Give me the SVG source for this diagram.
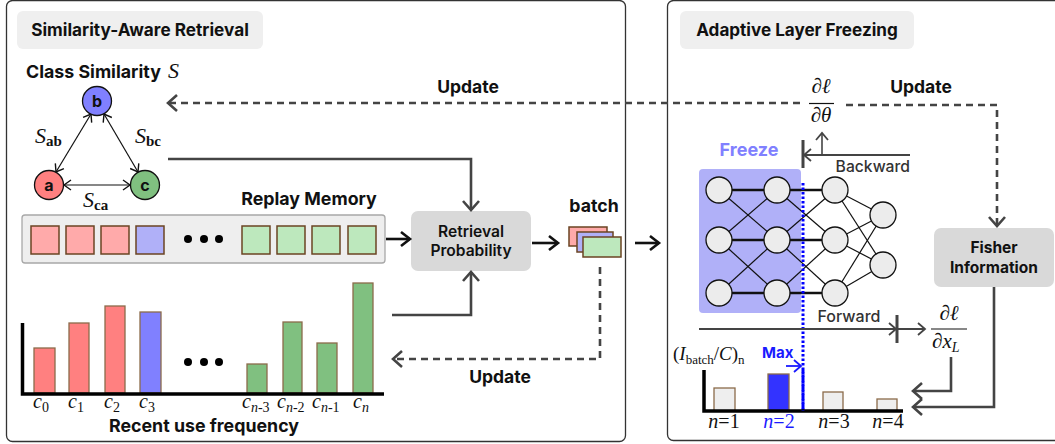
<svg xmlns="http://www.w3.org/2000/svg" width="1055" height="444" viewBox="0 0 1055 444">
<style>
.panel{fill:#fff;stroke:#333;stroke-width:1.3}
.tag{fill:#efefef}
.h{font-family:Inter,Roboto,"Liberation Sans",sans-serif;font-weight:700;fill:#111}
.m{font-family:Inter,Roboto,"Liberation Sans",sans-serif;font-weight:500;fill:#333}
.box{fill:#d9d9d9}
.math{font-family:"Liberation Serif","DejaVu Serif",serif;fill:#111}
.it{font-style:italic}
.sq{stroke:#6b4423;stroke-width:1.5}
.bar{stroke:#8b6b4a;stroke-width:1.3}
.node{fill:#ececec;stroke:#111;stroke-width:1.3}
.thin{stroke:#111;stroke-width:1.2;fill:none}
.thick{stroke:#111;stroke-width:2.6;fill:none}
.dash{stroke:#444;stroke-width:2.6;fill:none;stroke-dasharray:7 5}
.gl{stroke:#444;stroke-width:2.6;fill:none}
.bl{stroke:#111;stroke-width:2.6;fill:none}
</style>
<defs>
<marker id="ab" markerUnits="userSpaceOnUse" markerWidth="14" markerHeight="18" refX="11" refY="9" orient="auto"><path d="M2,2 L11,9 L2,16" fill="none" stroke="#111" stroke-width="2.6"/></marker>
<marker id="ag" markerUnits="userSpaceOnUse" markerWidth="14" markerHeight="20" refX="11" refY="10" orient="auto"><path d="M2,2 L11,10 L2,18" fill="none" stroke="#444" stroke-width="2.6"/></marker>
<marker id="at" markerUnits="userSpaceOnUse" markerWidth="10" markerHeight="12" refX="8" refY="6" orient="auto-start-reverse"><path d="M1,1 L8,6 L1,11" fill="none" stroke="#111" stroke-width="1.4"/></marker>
<marker id="atg" markerUnits="userSpaceOnUse" markerWidth="10" markerHeight="14" refX="8" refY="7" orient="auto"><path d="M1,1 L8,7 L1,13" fill="none" stroke="#444" stroke-width="1.8"/></marker>
<marker id="abl" markerUnits="userSpaceOnUse" markerWidth="10" markerHeight="14" refX="8" refY="7" orient="auto"><path d="M1,1 L8,7 L1,13" fill="none" stroke="#1a1aff" stroke-width="1.8"/></marker>
</defs>

<!-- panels -->
<rect class="panel" x="6.5" y="0.5" width="619" height="441" rx="6"/>
<rect class="panel" x="667.5" y="0.5" width="400" height="440" rx="6"/>

<g id="title-left"><rect class="tag" x="17" y="11" width="246" height="38" rx="6"/><text class="h" x="140" y="36" font-size="17.2" text-anchor="middle">Similarity-Aware Retrieval</text></g>
<g id="title-right"><rect class="tag" x="680" y="11" width="234" height="38" rx="6"/><text class="h" x="797" y="36" font-size="17.1" text-anchor="middle">Adaptive Layer Freezing</text></g>

<!-- class similarity -->
<g id="class-similarity">
<text class="h" x="26" y="78" font-size="17.8">Class Similarity</text>
<text class="math it" x="168" y="78" font-size="22">S</text>
</g>
<g id="sim-edges">
<line class="thin" x1="91" y1="114" x2="56" y2="172" marker-start="url(#at)" marker-end="url(#at)"/>
<line class="thin" x1="104" y1="114" x2="138" y2="172" marker-start="url(#at)" marker-end="url(#at)"/>
<line class="thin" x1="64" y1="185" x2="130" y2="185" marker-start="url(#at)" marker-end="url(#at)"/>
<text class="math" x="35" y="143"><tspan class="it" font-size="22">S</tspan><tspan font-size="15" font-weight="700" dy="3">ab</tspan></text>
<text class="math" x="135" y="143"><tspan class="it" font-size="22">S</tspan><tspan font-size="15" font-weight="700" dy="3">bc</tspan></text>
<text class="math" x="83" y="207"><tspan class="it" font-size="22">S</tspan><tspan font-size="15" font-weight="700" dy="3">ca</tspan></text>
</g>
<g id="node-b"><circle cx="97" cy="101" r="14.5" fill="#8080ff" stroke="#111" stroke-width="1.3"/><text class="h" x="97" y="107" font-size="16" text-anchor="middle">b</text></g>
<g id="node-a"><circle cx="49" cy="185" r="14.5" fill="#ff8080" stroke="#111" stroke-width="1.3"/><text class="h" x="49" y="191" font-size="16" text-anchor="middle">a</text></g>
<g id="node-c"><circle cx="145" cy="185" r="14.5" fill="#80c080" stroke="#111" stroke-width="1.3"/><text class="h" x="145" y="191" font-size="16" text-anchor="middle">c</text></g>

<!-- replay memory -->
<g id="replay-memory">
<text class="h" x="309" y="205" font-size="17.8" text-anchor="middle">Replay Memory</text>
<rect x="22" y="215" width="363" height="48" rx="3" fill="#eeeeee" stroke="#a8a8a8" stroke-width="1.3"/>
<rect class="sq" x="31" y="226" width="28" height="28" fill="#ffaaaa"/>
<rect class="sq" x="66" y="226" width="28" height="28" fill="#ffaaaa"/>
<rect class="sq" x="101" y="226" width="28" height="28" fill="#ffaaaa"/>
<rect class="sq" x="136" y="226" width="28" height="28" fill="#b0b0f8"/>
<circle cx="188" cy="239" r="4"/><circle cx="204" cy="239" r="4"/><circle cx="219" cy="239" r="4"/>
<rect class="sq" x="242" y="226" width="28" height="28" fill="#bde8bd"/>
<rect class="sq" x="277" y="226" width="28" height="28" fill="#bde8bd"/>
<rect class="sq" x="312" y="226" width="28" height="28" fill="#bde8bd"/>
<rect class="sq" x="348" y="226" width="28" height="28" fill="#bde8bd"/>
</g>

<!-- frequency chart -->
<g id="frequency-chart">
<rect class="bar" x="34" y="348" width="21" height="45" fill="#ff8080"/>
<rect class="bar" x="69" y="323" width="20" height="70" fill="#ff8080"/>
<rect class="bar" x="105" y="306" width="20" height="87" fill="#ff8080"/>
<rect class="bar" x="140" y="312" width="21" height="81" fill="#8080ff"/>
<circle cx="188" cy="362" r="4"/><circle cx="204" cy="362" r="4"/><circle cx="219" cy="362" r="4"/>
<rect class="bar" x="247" y="364" width="20" height="29" fill="#80c080"/>
<rect class="bar" x="283" y="322" width="19" height="71" fill="#80c080"/>
<rect class="bar" x="317" y="343" width="20" height="50" fill="#80c080"/>
<rect class="bar" x="353" y="283" width="20" height="110" fill="#80c080"/>
<path d="M22.5,323 V394 H384" fill="none" stroke="#000" stroke-width="3.5"/>
<g class="math" font-size="20">
<text x="33" y="408"><tspan class="it">c</tspan><tspan font-size="14" dy="4">0</tspan></text>
<text x="68" y="408"><tspan class="it">c</tspan><tspan font-size="14" dy="4">1</tspan></text>
<text x="104" y="408"><tspan class="it">c</tspan><tspan font-size="14" dy="4">2</tspan></text>
<text x="139" y="408"><tspan class="it">c</tspan><tspan font-size="14" dy="4">3</tspan></text>
<text x="242" y="408"><tspan class="it">c</tspan><tspan font-size="14" dy="4"><tspan class="it">n</tspan>-3</tspan></text>
<text x="277" y="408"><tspan class="it">c</tspan><tspan font-size="14" dy="4"><tspan class="it">n</tspan>-2</tspan></text>
<text x="312" y="408"><tspan class="it">c</tspan><tspan font-size="14" dy="4"><tspan class="it">n</tspan>-1</tspan></text>
<text x="353" y="408"><tspan class="it">c</tspan><tspan font-size="14" dy="4" class="it">n</tspan></text>
</g>
<text class="h" x="204" y="432" font-size="17.8" text-anchor="middle">Recent use frequency</text>
</g>

<!-- retrieval probability -->
<g id="retrieval-probability"><rect class="box" x="411" y="211" width="120" height="60" rx="7"/>
<text class="m" x="471" y="237" font-size="15.6" text-anchor="middle" style="fill:#111;font-weight:600">Retrieval</text>
<text class="m" x="471" y="256" font-size="15.6" text-anchor="middle" style="fill:#111;font-weight:600">Probability</text></g>

<!-- batch -->
<g id="batch">
<text class="h" x="594" y="212" font-size="17.7" text-anchor="middle">batch</text>
<rect class="sq" x="569" y="227" width="38" height="19" fill="#ffaaaa"/>
<rect class="sq" x="577" y="232" width="36" height="20" fill="#b0b0f8"/>
<rect class="sq" x="583" y="237" width="38" height="20" fill="#bde8bd"/>
</g>

<!-- network -->
<g id="network">
<rect x="699" y="169" width="102" height="144" rx="4" fill="#b0b0f8"/>
<text class="h" x="749" y="156" font-size="18" text-anchor="middle" style="fill:#8080ff">Freeze</text>
<g class="thick">
<line x1="719" y1="190" x2="777" y2="190"/><line x1="719" y1="240" x2="777" y2="240"/><line x1="719" y1="293" x2="777" y2="293"/>
<line x1="777" y1="190" x2="835" y2="190"/><line x1="777" y1="240" x2="835" y2="240"/><line x1="777" y1="293" x2="835" y2="293"/>
</g>
<g class="thin">
<line x1="719" y1="190" x2="777" y2="240"/><line x1="719" y1="240" x2="777" y2="190"/><line x1="719" y1="240" x2="777" y2="293"/><line x1="719" y1="293" x2="777" y2="240"/>
<line x1="777" y1="190" x2="835" y2="240"/><line x1="777" y1="240" x2="835" y2="190"/><line x1="777" y1="240" x2="835" y2="293"/><line x1="777" y1="293" x2="835" y2="240"/>
<line x1="835" y1="190" x2="883" y2="215"/><line x1="835" y1="190" x2="883" y2="265"/>
<line x1="835" y1="240" x2="883" y2="215"/><line x1="835" y1="240" x2="883" y2="265"/>
<line x1="835" y1="293" x2="883" y2="215"/><line x1="835" y1="293" x2="883" y2="265"/>
</g>
<circle class="node" cx="719" cy="190" r="13"/><circle class="node" cx="719" cy="240" r="13"/><circle class="node" cx="719" cy="293" r="13"/>
<circle class="node" cx="777" cy="190" r="13"/><circle class="node" cx="777" cy="240" r="13"/><circle class="node" cx="777" cy="293" r="13"/>
<circle class="node" cx="835" cy="190" r="13"/><circle class="node" cx="835" cy="240" r="13"/><circle class="node" cx="835" cy="293" r="13"/>
<circle class="node" cx="883" cy="215" r="13"/><circle class="node" cx="883" cy="265" r="13"/>
<line x1="803" y1="183" x2="803" y2="411" stroke="#0000ff" stroke-width="3" stroke-dasharray="2.5 2"/>
</g>

<!-- fisher -->
<g id="fisher-information"><rect class="box" x="934" y="228" width="120" height="59" rx="7"/>
<text class="h" x="994" y="253" font-size="15.5" text-anchor="middle">Fisher</text>
<text class="h" x="994" y="273" font-size="15.5" text-anchor="middle">Information</text></g>

<!-- gradients -->
<g id="grad-theta" class="math" font-size="21">
<text x="821" y="93" text-anchor="middle">∂<tspan class="it">ℓ</tspan></text>
<line x1="809" y1="103.5" x2="834" y2="103.5" stroke="#111" stroke-width="1.2"/>
<text x="821" y="122" text-anchor="middle">∂<tspan class="it">θ</tspan></text>
</g>
<g id="grad-x" class="math" font-size="21">
<text x="949" y="320" text-anchor="middle">∂<tspan class="it">ℓ</tspan></text>
<line x1="931" y1="329" x2="967" y2="329" stroke="#111" stroke-width="1.2"/>
<text x="932" y="348">∂<tspan class="it">x</tspan><tspan class="it" font-size="14" dy="4">L</tspan></text>
</g>

<!-- fisher chart -->
<g id="fisher-chart">
<text class="math" x="673" y="360" font-size="19">(<tspan class="it">I</tspan><tspan font-size="13" dy="4">batch</tspan><tspan dy="-4">/</tspan><tspan class="it">C</tspan>)<tspan font-size="13" dy="4">n</tspan></text>
<text class="h" x="762" y="358" font-size="15" style="fill:#1a1aff">Max</text>
<line x1="786" y1="366" x2="801" y2="366" stroke="#1a1aff" stroke-width="1.8" marker-end="url(#abl)"/>
<rect class="bar" x="714" y="388" width="21" height="23" fill="#eeeeee"/>
<rect class="bar" x="768" y="374" width="21" height="37" fill="#3333ff" stroke="#333"/>
<rect class="bar" x="823" y="392" width="20" height="19" fill="#eeeeee"/>
<rect class="bar" x="877" y="399" width="20" height="12" fill="#eeeeee"/>
<path d="M704,370 V411 H903" fill="none" stroke="#000" stroke-width="3.5"/>
<line x1="803" y1="370" x2="803" y2="411" stroke="#0000ff" stroke-width="3" stroke-dasharray="2.5 2"/>
<g class="math" font-size="20">
<text x="724" y="428" text-anchor="middle"><tspan class="it">n</tspan>=1</text>
<text x="779" y="428" text-anchor="middle" style="fill:#1a1aff"><tspan class="it">n</tspan>=2</text>
<text x="834" y="428" text-anchor="middle"><tspan class="it">n</tspan>=3</text>
<text x="888" y="428" text-anchor="middle"><tspan class="it">n</tspan>=4</text>
</g>
</g>

<!-- connectors -->
<g id="connectors">
<path class="dash" d="M997,225 V105 H843"/>
<path class="dash" d="M800,103 H168" marker-end="url(#ag)"/>
<line x1="997" y1="200" x2="997" y2="226" stroke="none" marker-end="url(#ag)"/>
<text class="h" x="468" y="93" font-size="17.5" text-anchor="middle">Update</text>
<text class="h" x="921" y="93" font-size="17.5" text-anchor="middle">Update</text>
<path class="gl" d="M168,159 H471 V210" marker-end="url(#ag)"/>
<path class="gl" d="M392,315 H471 V272" marker-end="url(#ag)"/>
<line class="bl" x1="386" y1="239" x2="410" y2="239" marker-end="url(#ab)"/>
<line class="bl" x1="532" y1="243" x2="558" y2="243" marker-end="url(#ab)"/>
<line class="bl" x1="635" y1="243" x2="659" y2="243" marker-end="url(#ab)"/>
<path class="dash" d="M600,267 V359 H393" marker-end="url(#ag)"/>
<text class="h" x="500" y="383" font-size="17.5" text-anchor="middle">Update</text>
<line x1="910" y1="155" x2="804" y2="155" stroke="#444" stroke-width="2" marker-end="url(#atg)"/>
<line x1="803" y1="140" x2="803" y2="168" stroke="#444" stroke-width="3"/>
<line x1="822" y1="155" x2="822" y2="133" stroke="#444" stroke-width="1.6" marker-end="url(#atg)"/>
<text class="m" x="910" y="172" font-size="15.7" text-anchor="end">Backward</text>
<line x1="699" y1="329" x2="896" y2="329" stroke="#444" stroke-width="2" marker-end="url(#atg)"/>
<line x1="897" y1="315" x2="897" y2="343" stroke="#444" stroke-width="3"/>
<line x1="897" y1="329" x2="925" y2="329" stroke="#444" stroke-width="2" marker-end="url(#atg)"/>
<text class="m" x="849" y="322" font-size="16" text-anchor="middle">Forward</text>
<path class="gl" d="M994,287 V407 H913" marker-end="url(#ag)"/>
<path class="gl" d="M951,357 V391 H913" marker-end="url(#ag)"/>
</g>
</svg>
